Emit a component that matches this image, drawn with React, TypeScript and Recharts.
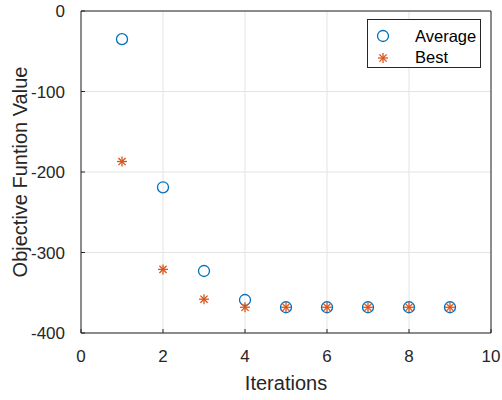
import { CartesianGrid, ReferenceLine, Scatter, ScatterChart, XAxis, YAxis } from "recharts";

const iterations = [1, 2, 3, 4, 5, 6, 7, 8, 9];
const averageValues = [-35, -219, -323, -359, -368, -368, -368, -368, -368];
const bestValues = [-187, -321, -358, -368, -368, -368, -368, -368, -368];
const xTicks = [0, 2, 4, 6, 8, 10];
const yTicks = [-400, -300, -200, -100, 0];

const averageData = iterations.map((it, i) => ({ it, v: averageValues[i] }));
const bestData = iterations.map((it, i) => ({ it, v: bestValues[i] }));

const ink = "#262626";
const blue = "#0072BD";
const orange = "#D95319";
const font = "'Liberation Sans', Arial, sans-serif";

function Circle(props: any) {
  const { cx, cy } = props;
  return <circle cx={cx} cy={cy} r={5.5} fill="none" stroke={blue} strokeWidth={1.3} />;
}

function Star(props: any) {
  const { cx, cy } = props;
  const r = 5;
  const d = 3.6;
  return (
    <g stroke={orange} strokeWidth={1.3}>
      <line x1={cx - r} y1={cy} x2={cx + r} y2={cy} />
      <line x1={cx} y1={cy - r} x2={cx} y2={cy + r} />
      <line x1={cx - d} y1={cy - d} x2={cx + d} y2={cy + d} />
      <line x1={cx - d} y1={cy + d} x2={cx + d} y2={cy - d} />
    </g>
  );
}

function XTick(props: any) {
  const { x, payload } = props;
  return (
    <g>
      <line x1={x} y1={333} x2={x} y2={329} stroke={ink} />
      <text x={x} y={362} textAnchor="middle" fill={ink} fontSize={17} fontFamily={font}>
        {payload.value}
      </text>
    </g>
  );
}

function YTick(props: any) {
  const { y, payload } = props;
  return (
    <g>
      <line x1={81} y1={y} x2={85} y2={y} stroke={ink} />
      <text x={65} y={y + 6} textAnchor="end" fill={ink} fontSize={17} fontFamily={font}>
        {payload.value}
      </text>
    </g>
  );
}

function LegendBox() {
  return (
    <svg width={115} height={50} style={{ position: "absolute", left: 367, top: 19 }}>
      <rect x={0.5} y={0.5} width={113} height={48} fill="#fff" stroke={ink} />
      <Circle cx={16} cy={17} />
      <text x={48} y={23} fill="#000" fontSize={16.5} fontFamily={font}>Average</text>
      <Star cx={16} cy={39} />
      <text x={48} y={44} fill="#000" fontSize={16.5} fontFamily={font}>Best</text>
    </svg>
  );
}

export default function App() {
  return (
    <div style={{ position: "absolute", left: 0, top: 0, width: 502, height: 400, background: "#fff" }}>
      <ScatterChart width={502} height={400} margin={{ top: 11, right: 11, bottom: 0, left: 0 }}>
        <CartesianGrid stroke="#e3e3e3" strokeWidth={1} />
        <XAxis
          type="number"
          dataKey="it"
          domain={[0, 10]}
          ticks={xTicks}
          height={67}
          stroke={ink}
          tickLine={false}
          tick={<XTick />}
          label={() => (
            <text x={286} y={390} textAnchor="middle" fill={ink} fontSize={20} fontFamily={font}>
              Iterations
            </text>
          )}
        />
        <YAxis
          type="number"
          dataKey="v"
          domain={[-400, 0]}
          ticks={yTicks}
          width={81}
          stroke={ink}
          tickLine={false}
          tick={<YTick />}
          label={() => (
            <text
              transform="translate(27,172) rotate(-90)"
              textAnchor="middle"
              fill={ink}
              fontSize={20}
              fontFamily={font}
            >
              Objective Funtion Value
            </text>
          )}
        />
        <ReferenceLine y={0} stroke={ink} />
        <ReferenceLine x={10} stroke={ink} />
        <Scatter name="Average" data={averageData} shape={<Circle />} isAnimationActive={false} />
        <Scatter name="Best" data={bestData} shape={<Star />} isAnimationActive={false} />
      </ScatterChart>
      <LegendBox />
    </div>
  );
}
